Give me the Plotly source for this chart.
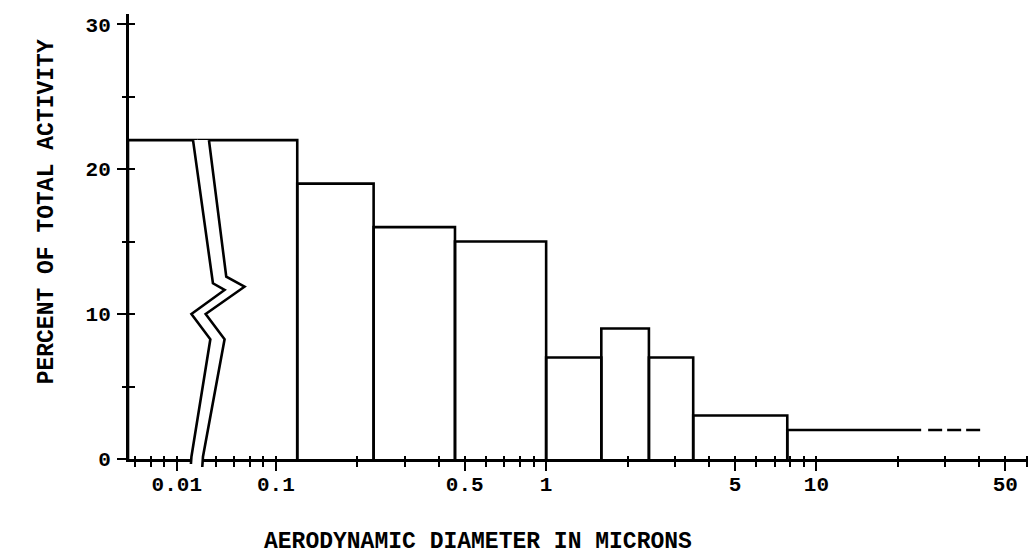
import math
import plotly.graph_objects as go

# ---- data ----
bin_edges = [0.0066, 0.12, 0.23, 0.46, 1.0, 1.6, 2.4, 3.5, 7.8]   # lower edges (microns)
percent = [22, 19, 16, 15, 7, 9, 7, 3, 2]                          # percent of total activity
open_end_solid = 24.4      # last (open-ended) bin: solid top up to here
open_end_dash_start = 25.9
open_end_dashed = 42       # ... then dashed up to here

x_tick_left = [0.01]
x_tick_left_text = ["0.01"]
x_tick_right = [0.1, 0.5, 1, 5, 10, 50]
x_tick_right_text = ["0.1", "0.5", "1", "5", "10", "50"]
y_tick_vals = [0, 10, 20, 30]
y_minor_vals = [5, 15, 25]

# ---- layout geometry (pixels) ----
W, H = 1036, 556
ML, MR, MT, MB = 129, 4, 14, 97
PW = W - ML - MR
PH = H - MT - MB
PX_PER_DEC = 271.5
Y_MAX = 30.7
BREAK_PX = 198            # junction between the two pieces of the broken axis

def px_to_paper_x(px):
    return (px - ML) / PW

def px_to_paper_y(py):
    return (H - MB - py) / PH

# left piece: 0.01 sits at px 177
left_lo = -2 - (177 - ML) / PX_PER_DEC
left_hi = -2 + (BREAK_PX - 177) / PX_PER_DEC
# right piece: 1 sits at px 548
right_lo = (BREAK_PX - 548) / PX_PER_DEC
right_hi = (W - MR - 548) / PX_PER_DEC
split = px_to_paper_x(BREAK_PX)

def minor_vals(lo, hi, majors):
    out = []
    for d in range(-4, 3):
        for k in range(1, 10):
            v = k * 10 ** d
            if lo <= math.log10(v) <= hi and all(abs(v - m) > 1e-9 for m in majors):
                out.append(round(v, 6))
    return out

# ---- bar outlines ----
xs, ys = [], []
for i in range(len(percent) - 1):
    l, r, h = bin_edges[i], bin_edges[i + 1], percent[i]
    xs += [l, l, r, r, None]
    ys += [0, h, h, 0, None]
xs += [bin_edges[-1], bin_edges[-1], open_end_solid]
ys += [0, percent[-1], percent[-1]]

line_style = dict(color="black", width=2.6)
fig = go.Figure()
for xa in ["x", "x2"]:
    fig.add_trace(go.Scatter(x=xs, y=ys, mode="lines", line=line_style,
                             xaxis=xa, yaxis="y", hoverinfo="skip", showlegend=False))
fig.add_trace(go.Scatter(x=[open_end_dash_start, open_end_dashed], y=[percent[-1], percent[-1]],
                         mode="lines", line=dict(color="black", width=2.6, dash="14px,5px"),
                         xaxis="x2", yaxis="y", hoverinfo="skip", showlegend=False))
# empty traces for the overlay (inside-tick) axes
fig.add_trace(go.Scatter(x=[], y=[], xaxis="x", yaxis="y2", showlegend=False))
fig.add_trace(go.Scatter(x=[], y=[], xaxis="x3", yaxis="y", showlegend=False))
fig.add_trace(go.Scatter(x=[], y=[], xaxis="x4", yaxis="y", showlegend=False))

font = dict(family="Liberation Mono, Courier New, monospace", color="black", weight="bold")
tickfont = dict(font, size=21)

common_x = dict(type="log", anchor="y", showgrid=False, zeroline=False,
                showline=True, linecolor="black", linewidth=3,
                ticks="outside", ticklen=9, tickwidth=2, tickcolor="black",
                tickfont=tickfont, ticklabelstandoff=-5, fixedrange=True)

fig.update_layout(
    width=W, height=H,
    margin=dict(l=ML, r=MR, t=MT, b=MB),
    paper_bgcolor="white", plot_bgcolor="white",
    showlegend=False,
    xaxis=dict(common_x, domain=[0, split], range=[left_lo, left_hi],
               tickmode="array", tickvals=x_tick_left, ticktext=x_tick_left_text,
               minor=dict(tickmode="array", tickvals=minor_vals(left_lo, left_hi, x_tick_left),
                          ticks="outside", ticklen=5, tickwidth=2, tickcolor="black")),
    xaxis2=dict(common_x, domain=[split, 1], range=[right_lo, right_hi],
                tickmode="array", tickvals=x_tick_right, ticktext=x_tick_right_text,
                minor=dict(tickmode="array", tickvals=minor_vals(right_lo, right_hi, x_tick_right),
                           ticks="outside", ticklen=5, tickwidth=2, tickcolor="black")),
    xaxis3=dict(type="log", overlaying="x", anchor="y", range=[left_lo, left_hi],
                showline=False, showgrid=False, zeroline=False, showticklabels=False,
                tickmode="array", tickvals=minor_vals(left_lo, left_hi, []),
                ticks="inside", ticklen=3, tickwidth=2, tickcolor="black", fixedrange=True),
    xaxis4=dict(type="log", overlaying="x2", anchor="y", range=[right_lo, right_hi],
                showline=False, showgrid=False, zeroline=False, showticklabels=False,
                tickmode="array", tickvals=minor_vals(right_lo, right_hi, []),
                ticks="inside", ticklen=3, tickwidth=2, tickcolor="black", fixedrange=True),
    yaxis=dict(anchor="x", range=[0, Y_MAX], showgrid=False, zeroline=False,
               showline=True, linecolor="black", linewidth=3,
               tickmode="array", tickvals=y_tick_vals,
               ticks="outside", ticklen=9, tickwidth=2, tickcolor="black",
               tickfont=tickfont, ticklabelstandoff=2, fixedrange=True,
               minor=dict(tickmode="array", tickvals=y_minor_vals, ticks="outside",
                          ticklen=4, tickwidth=2, tickcolor="black")),
    yaxis2=dict(overlaying="y", anchor="x", side="left", range=[0, Y_MAX],
                showgrid=False, zeroline=False, showline=False, showticklabels=False,
                tickmode="array", tickvals=y_tick_vals + y_minor_vals,
                ticks="inside", ticklen=6, tickwidth=2, tickcolor="black", fixedrange=True),
)

# ---- axis break (decoration) ----
top_py = H - MB - percent[0] * PH / Y_MAX
left_pts = [(193.3, top_py), (213.3, 283.3), (225, 290), (191.7, 314),
            (210.7, 339.3), (191.7, 456.7), (191.2, 464)]
right_pts = [(209.3, top_py), (226.7, 276.7), (245, 286.7), (206, 314),
             (225, 339.3), (203.3, 456.7), (202.6, 467)]

def path_of(pts, close=False):
    s = " ".join(("M" if i == 0 else "L") + f"{px_to_paper_x(x):.5f},{px_to_paper_y(y):.5f}"
                 for i, (x, y) in enumerate(pts))
    return s + (" Z" if close else "")

fig.add_shape(type="path", xref="paper", yref="paper", layer="above",
              path=path_of(left_pts + right_pts[::-1], close=True),
              fillcolor="white", line=dict(width=0))
for pts in (left_pts, right_pts):
    fig.add_shape(type="path", xref="paper", yref="paper", layer="above",
                  path=path_of(pts), fillcolor="rgba(0,0,0,0)",
                  line=dict(color="black", width=2.6))

# ---- axis titles ----
fig.add_annotation(text="AERODYNAMIC DIAMETER IN MICRONS", xref="paper", yref="paper",
                   x=px_to_paper_x(480), y=px_to_paper_y(542), showarrow=False,
                   xanchor="center", yanchor="middle", font=dict(font, size=23))
fig.add_annotation(text="PERCENT OF TOTAL ACTIVITY", xref="paper", yref="paper",
                   x=px_to_paper_x(47), y=px_to_paper_y(212), showarrow=False, textangle=-90,
                   xanchor="center", yanchor="middle", font=dict(font, size=23))

fig.write_html("out.html")
